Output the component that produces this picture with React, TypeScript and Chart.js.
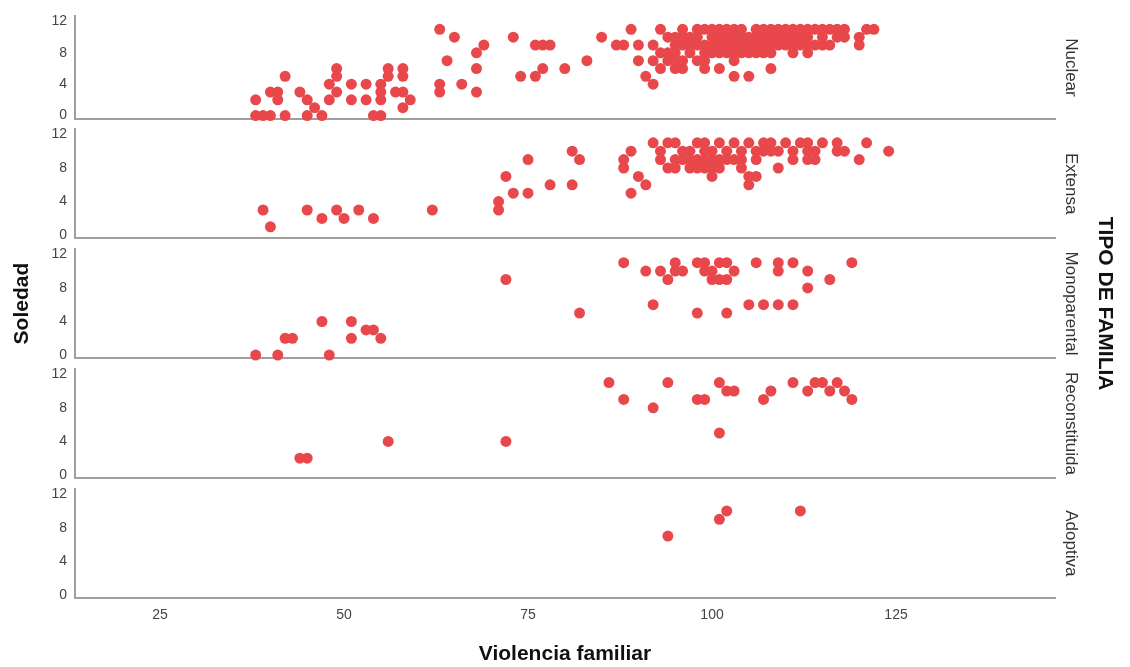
import React, { useEffect, useRef } from 'react';
import { Chart, registerables } from 'chart.js';

Chart.register(...registerables);

// ---------- data ----------
const panelNames: string[] = ['Nuclear', 'Extensa', 'Monoparental', 'Reconstituida', 'Adoptiva'];
const xTickValues: number[] = [25, 50, 75, 100, 125];
const yTickValues: number[] = [0, 4, 8, 12];
const xAxisTitle = 'Violencia familiar';
const yAxisTitle = 'Soledad';
const groupTitle = 'TIPO DE FAMILIA';

// [Violencia familiar, Soledad]
const nuclear: [number, number][] = [
  [38, 2], [38, 0], [39, 0], [40, 0], [40, 3], [41, 3], [41, 2], [42, 5], [42, 0], [44, 3],
  [45, 2], [45, 0], [46, 1], [47, 0], [48, 2], [48, 4], [49, 6], [49, 5], [49, 3], [51, 4],
  [51, 2], [53, 4], [53, 2], [54, 0], [55, 0], [55, 4], [55, 3], [55, 2], [56, 6], [56, 5],
  [57, 3], [58, 3], [58, 6], [58, 5], [58, 1], [59, 2],
  [63, 11], [63, 4], [63, 3], [64, 7], [65, 10], [66, 4], [68, 8], [68, 6], [68, 3], [69, 9],
  [73, 10], [74, 5], [76, 5], [76, 9], [77, 9], [78, 9], [77, 6], [80, 6], [83, 7], [85, 10],
  [87, 9], [88, 9], [89, 11], [90, 9], [90, 7], [91, 5], [92, 9], [92, 7], [92, 4], [93, 11],
  [93, 8], [93, 6], [96, 11],
  [98, 11], [99, 11], [100, 11], [101, 11], [102, 11], [103, 11], [104, 11], [106, 11], [107, 11], [108, 11],
  [109, 11], [110, 11], [111, 11], [112, 11], [113, 11], [114, 11], [115, 11], [116, 11], [117, 11], [118, 11],
  [121, 11], [122, 11],
  [94, 10], [95, 10], [96, 10], [97, 10], [98, 10], [100, 10], [101, 10], [102, 10], [103, 10], [104, 10],
  [105, 10], [106, 10], [107, 10], [108, 10], [109, 10], [110, 10], [111, 10], [112, 10], [113, 10], [115, 10],
  [117, 10], [118, 10], [120, 10],
  [95, 9], [96, 9], [97, 9], [98, 9], [99, 9], [100, 9], [101, 9], [102, 9], [103, 9], [104, 9],
  [105, 9], [106, 9], [107, 9], [108, 9], [109, 9], [110, 9], [111, 9], [112, 9], [113, 9], [114, 9],
  [115, 9], [116, 9], [120, 9],
  [94, 8], [95, 8], [97, 8], [99, 8], [100, 8], [101, 8], [102, 8], [103, 8], [104, 8], [105, 8],
  [106, 8], [107, 8], [108, 8], [111, 8], [113, 8],
  [94, 7], [95, 7], [96, 7], [98, 7], [99, 7], [103, 7],
  [95, 6], [96, 6], [99, 6], [101, 6], [108, 6],
  [103, 5], [105, 5],
];

const extensa: [number, number][] = [
  [39, 3], [40, 1], [45, 3], [47, 2], [49, 3], [50, 2], [52, 3], [54, 2], [62, 3], [71, 4],
  [71, 3], [72, 7], [73, 5], [75, 5], [75, 9], [78, 6], [81, 6], [81, 10], [82, 9], [88, 9],
  [88, 8], [89, 10], [89, 5], [90, 7], [91, 6],
  [92, 11], [94, 11], [95, 11], [98, 11], [99, 11], [101, 11], [103, 11], [105, 11], [107, 11], [108, 11],
  [110, 11], [112, 11], [113, 11], [115, 11], [117, 11], [121, 11],
  [93, 10], [96, 10], [97, 10], [99, 10], [100, 10], [102, 10], [104, 10], [106, 10], [107, 10], [108, 10],
  [109, 10], [111, 10], [113, 10], [114, 10], [117, 10], [118, 10], [124, 10],
  [93, 9], [95, 9], [96, 9], [97, 9], [98, 9], [99, 9], [100, 9], [101, 9], [102, 9], [103, 9],
  [104, 9], [106, 9], [111, 9], [113, 9], [114, 9], [120, 9],
  [94, 8], [95, 8], [97, 8], [98, 8], [99, 8], [100, 8], [101, 8], [104, 8], [109, 8],
  [100, 7], [105, 7], [106, 7],
  [105, 6],
];

const monoparental: [number, number][] = [
  [38, 0], [41, 0], [42, 2], [43, 2], [47, 4], [48, 0], [51, 4], [51, 2], [53, 3], [54, 3],
  [55, 2], [72, 9], [82, 5],
  [88, 11], [91, 10], [92, 6], [93, 10], [94, 9], [95, 11], [95, 10], [96, 10], [98, 11], [99, 11],
  [98, 5], [99, 10], [100, 10], [100, 9], [101, 9], [102, 9], [101, 11], [102, 11], [103, 10], [102, 5],
  [105, 6], [106, 11], [107, 6], [109, 11], [109, 10], [109, 6], [111, 11], [111, 6], [113, 10], [113, 8],
  [116, 9], [119, 11],
];

const reconstituida: [number, number][] = [
  [44, 2], [45, 2], [56, 4], [72, 4], [86, 11], [88, 9], [92, 8], [94, 11], [98, 9], [99, 9],
  [101, 11], [102, 10], [103, 10], [101, 5], [107, 9], [108, 10], [111, 11], [113, 10], [114, 11], [115, 11],
  [116, 10], [117, 11], [118, 10], [119, 9],
];

const adoptiva: [number, number][] = [
  [94, 7], [101, 9], [102, 10], [112, 10],
];

const panelData: [number, number][][] = [nuclear, extensa, monoparental, reconstituida, adoptiva];

// ---------- styling / layout ----------
const W = 1130;
const H = 667;
const FONT = "'Liberation Sans', Arial, Helvetica, sans-serif";
const RED = 'rgb(232, 72, 75)';
const AXIS_COLOR = '#9e9e9e';
const PLOT_LEFT = 75;
const PLOT_RIGHT = 1055;
const PANEL_TOP0 = 9;
const PANEL_H = 109.5;
const PANEL_PITCH = 119.9;
const X_MIN = 13.45;
const X_MAX = 146.6;
const Y_MIN = -0.38;
const Y_MAX = 12.655;

Chart.defaults.font.family = FONT;

const stripPlugin = {
  id: 'strip',
  afterDraw(chart: any, _args: any, opts: any) {
    const { ctx, chartArea } = chart;
    ctx.save();
    ctx.fillStyle = '#333333';
    ctx.font = `17px ${FONT}`;
    ctx.textAlign = 'center';
    ctx.textBaseline = 'middle';
    ctx.translate(chartArea.right + 16, (chartArea.top + chartArea.bottom) / 2);
    ctx.rotate(Math.PI / 2);
    ctx.fillText(opts.label, 0, 0);
    ctx.restore();
    if (opts.title) {
      ctx.save();
      ctx.fillStyle = '#111111';
      ctx.font = `bold 21px ${FONT}`;
      ctx.textAlign = 'center';
      ctx.textBaseline = 'middle';
      ctx.translate(chartArea.right + 50, (chartArea.top + chartArea.bottom) / 2);
      ctx.rotate(Math.PI / 2);
      ctx.fillText(opts.title, 0, 0);
      ctx.restore();
    }
  },
};

function Panel({ index }: { index: number }) {
  const ref = useRef<HTMLCanvasElement | null>(null);
  useEffect(() => {
    const canvas = ref.current;
    if (!canvas) return;
    const isLast = index === panelNames.length - 1;
    const top = PANEL_TOP0 + PANEL_PITCH * index;
    const bottom = top + PANEL_H;
    const xAxisHeight = isLast ? H - bottom : 0;
    const padBottom = isLast ? 0 : H - bottom;
    const chart = new Chart(canvas, {
      type: 'scatter',
      data: {
        datasets: [
          {
            data: panelData[index].map(([x, y]) => ({ x, y })),
            backgroundColor: RED,
            borderColor: RED,
            borderWidth: 0,
            pointRadius: 5.5,
            pointHoverRadius: 5.5,
            clip: false as any,
          },
        ],
      },
      options: {
        responsive: false,
        maintainAspectRatio: false,
        animation: false,
        events: [],
        layout: { padding: { left: 0, right: W - PLOT_RIGHT, top, bottom: padBottom } },
        plugins: {
          legend: { display: false },
          tooltip: { enabled: false },
          strip: { label: panelNames[index], title: index === 2 ? groupTitle : '' },
        } as any,
        scales: {
          x: {
            type: 'linear',
            min: X_MIN,
            max: X_MAX,
            grid: { display: false, drawTicks: false },
            border: { display: true, color: AXIS_COLOR, width: 2 },
            ticks: {
              display: isLast,
              color: '#444444',
              font: { size: 14, family: FONT },
              padding: 9,
              autoSkip: false,
              maxRotation: 0,
            },
            title: {
              display: isLast,
              text: xAxisTitle,
              color: '#111111',
              font: { size: 21, weight: 'bold', family: FONT },
              padding: { top: 0, bottom: 0 },
            },
            afterBuildTicks: (s: any) => {
              s.ticks = xTickValues.map((v) => ({ value: v }));
            },
            afterFit: (s: any) => {
              s.height = xAxisHeight;
            },
          },
          y: {
            type: 'linear',
            min: Y_MIN,
            max: Y_MAX,
            grid: { display: false, drawTicks: false },
            border: { display: true, color: AXIS_COLOR, width: 2 },
            ticks: {
              color: '#444444',
              font: { size: 14, family: FONT },
              padding: 8,
              autoSkip: false,
            },
            title: {
              display: index === 2,
              text: yAxisTitle,
              color: '#111111',
              font: { size: 21, weight: 'bold', family: FONT },
              padding: { top: 9.4, bottom: 0 },
            },
            afterBuildTicks: (s: any) => {
              s.ticks = yTickValues.map((v) => ({ value: v }));
            },
            afterFit: (s: any) => {
              s.width = PLOT_LEFT;
            },
          },
        },
      },
      plugins: [stripPlugin],
    } as any);
    return () => chart.destroy();
  }, [index]);
  return (
    <canvas
      ref={ref}
      width={W}
      height={H}
      style={{ position: 'absolute', left: 0, top: 0, width: W, height: H }}
    />
  );
}

export default function App() {
  return (
    <div
      style={{
        position: 'absolute',
        left: 0,
        top: 0,
        width: W,
        height: H,
        background: '#ffffff',
        overflow: 'hidden',
      }}
    >
      {panelNames.map((name, i) => (
        <Panel key={name} index={i} />
      ))}
    </div>
  );
}
